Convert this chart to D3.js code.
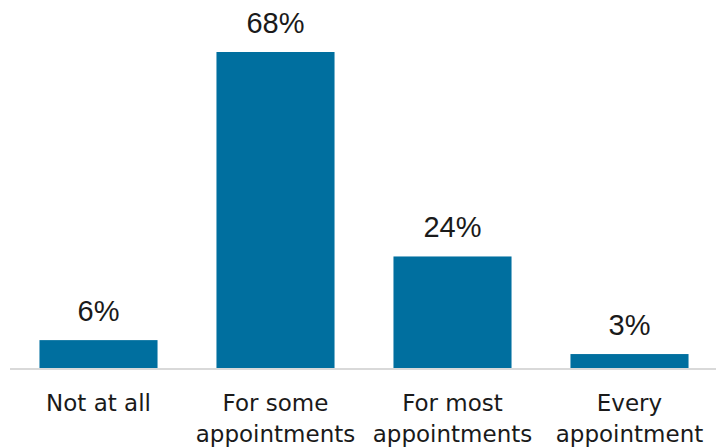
<!DOCTYPE html>
<html><head><meta charset="utf-8">
<script src="https://cdn.jsdelivr.net/npm/d3@7"></script>
<style>body{margin:0;background:#fff}svg{display:block}</style>
</head><body>
<svg id="c" width="716" height="448"></svg>
<script>
const categories = [["Not at all"], ["For some", "appointments"], ["For most", "appointments"], ["Every", "appointment"]];
const values = [6, 68, 24, 3];
const valueLabels = ["6%", "68%", "24%", "3%"];

const svg = d3.select("#c");
const x = d3.scaleBand().domain(d3.range(values.length)).range([10, 718]).paddingInner(0.333).paddingOuter(0.1665);
const y = d3.scaleLinear().domain([0, 68]).range([368, 52]);

svg.selectAll("rect.bar").data(values).join("rect")
  .attr("class", "bar")
  .attr("x", (d, i) => x(i)).attr("width", x.bandwidth())
  .attr("y", d => y(d)).attr("height", d => y(0) - y(d))
  .attr("fill", "#006f9f");

svg.append("line").attr("x1", 10).attr("x2", 716).attr("y1", y(0) + 1).attr("y2", y(0) + 1)
  .attr("stroke", "#d9d9d9").attr("stroke-width", 2);

svg.selectAll("text.val").data(values).join("text")
  .attr("class", "val")
  .attr("x", (d, i) => x(i) + x.bandwidth() / 2)
  .attr("y", d => y(d) - 19.5)
  .attr("text-anchor", "middle")
  .attr("font-family", "'Liberation Sans', Arial, sans-serif").attr("font-size", 29).attr("fill", "#1a1a1a")
  .text((d, i) => valueLabels[i]);

const cat = svg.selectAll("text.cat").data(categories).join("text")
  .attr("class", "cat")
  .attr("text-anchor", "middle")
  .attr("font-family", "'DejaVu Sans', sans-serif").attr("font-size", 23).attr("fill", "#1a1a1a");
cat.each(function(lines, i) {
  d3.select(this).selectAll("tspan").data(lines).join("tspan")
    .attr("x", x(i) + x.bandwidth() / 2)
    .attr("y", (l, j) => 411 + j * 31)
    .text(l => l);
});
</script>
</body></html>
